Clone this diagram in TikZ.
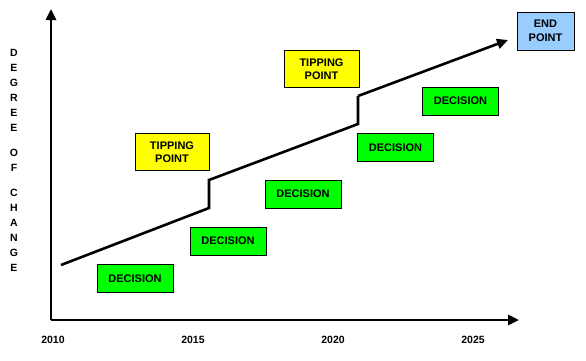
\documentclass[tikz,border=0pt]{standalone}
\usepackage{fontspec}
\setmainfont{Liberation Sans}
\usepackage{xcolor}
\usetikzlibrary{positioning, arrows.meta}

\definecolor{decgreen}{HTML}{00FF00}
\definecolor{tipyellow}{HTML}{FFFF00}
\definecolor{endblue}{HTML}{99CCFF}

\tikzset{
  box/.style={rectangle, draw=black, line width=0.9pt,
    minimum width=76pt, minimum height=28pt, inner sep=0pt,
    align=center, font=\fontsize{11}{13.5}\selectfont\bfseries},
  decbox/.style={box, fill=decgreen},
  tipbox/.style={box, fill=tipyellow, minimum height=37pt},
  axisline/.style={line width=2.6pt, -{Triangle[length=11pt,width=10pt]}},
  trend/.style={line width=2.6pt, line join=miter}
}

\begin{document}
\begin{tikzpicture}[x=1pt, y=-1pt]

    \useasboundingbox (0,0) rectangle (586,360);

    % axes
    \coordinate (orig) at (51,320);
    \coordinate (ytop) at (51,9);
    \coordinate (xend) at (519,320);
    \draw[axisline] (orig)--(ytop);
    \draw[axisline] (orig)--(xend);

    \node[align=center, font=\fontsize{10.5}{15}\selectfont\bfseries]
      (ylab) at (14,160)
      {D\\E\\G\\R\\E\\E\\[10pt]O\\F\\[10pt]C\\H\\A\\N\\G\\E};

    \node[font=\fontsize{10.5}{12}\selectfont\bfseries] (y2010) at (53,340) {2010};
    \node[font=\fontsize{10.5}{12}\selectfont\bfseries] (y2015) at (193,340) {2015};
    \node[font=\fontsize{10.5}{12}\selectfont\bfseries] (y2020) at (333,340) {2020};
    \node[font=\fontsize{10.5}{12}\selectfont\bfseries] (y2025) at (473,340) {2025};

    % trend line with two jumps
    \coordinate (s0) at (61,265);
    \coordinate (s1) at (209,208);
    \coordinate (s2) at (209,180);
    \coordinate (s3) at (358,124);
    \coordinate (s4) at (358,96);
    \coordinate (s5) at (508,40);
    \draw[trend] (s0)--(s1)--(s2)--(s3)--(s4);
    \draw[trend, -{Triangle[length=11pt,width=10pt]}] (s4)--(s5);

    \node[decbox] (dec1) at (135,278.5) {DECISION};
    \node[decbox] (dec2) at (228,241) {DECISION};
    \node[decbox] (dec3) at (303,194) {DECISION};
    \node[decbox] (dec4) at (395.5,147.5) {DECISION};
    \node[decbox] (dec5) at (460.5,101) {DECISION};

    \node[tipbox, minimum width=74pt] (tip1) at (172,152) {TIPPING\\POINT};
    \node[tipbox, minimum width=75pt] (tip2) at (321.5,69) {TIPPING\\POINT};

    \node[box, fill=endblue,
      minimum width=57pt,
      minimum height=38pt] (endpt) at (545.5,31) {END\\POINT};

\end{tikzpicture}
\end{document}
